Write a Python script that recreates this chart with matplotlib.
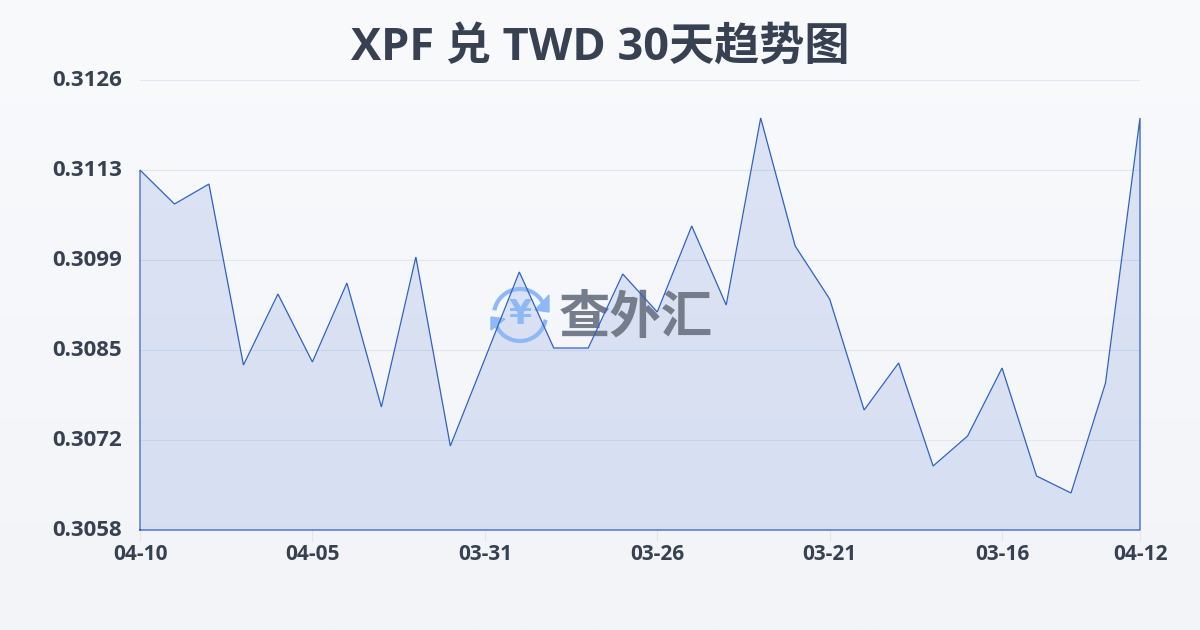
import numpy as np
import matplotlib.pyplot as plt
from matplotlib.patches import Polygon

plt.rcParams['font.family'] = ['Open Sans', 'Noto Sans CJK SC', 'DejaVu Sans']

title = 'XPF 兑 TWD 30天趋势图'
dates = ['04-10', '04-09', '04-08', '04-07', '04-06', '04-05', '04-04', '04-03', '04-02', '04-01',
         '03-31', '03-30', '03-29', '03-28', '03-27', '03-26', '03-25', '03-24', '03-23', '03-22',
         '03-21', '03-20', '03-19', '03-18', '03-17', '03-16', '03-15', '03-14', '03-13', '04-12']
rates = [0.31124, 0.310726, 0.311028, 0.308293, 0.309366, 0.308339, 0.309532, 0.307659, 0.309925, 0.307069,
         0.308384, 0.309699, 0.30855, 0.30855, 0.309668, 0.309094, 0.310394, 0.3092, 0.312026, 0.310092,
         0.309291, 0.307613, 0.308324, 0.306767, 0.30722, 0.308248, 0.306616, 0.306359, 0.308021, 0.312026]
y_labels = ['0.3058', '0.3072', '0.3085', '0.3099', '0.3113', '0.3126']
x_tick_idx = [0, 5, 10, 15, 20, 25, 29]
y_min, y_max = 0.3058, 0.3126

LINE = '#2f62c8'
TEXT = '#374151'

fig = plt.figure(figsize=(12, 6.3), dpi=100)

# background gradient
bg = fig.add_axes([0, 0, 1, 1], zorder=0)
bg.imshow(np.linspace(0, 1, 256).reshape(-1, 1), aspect='auto', extent=[0, 1200, 630, 0],
          cmap=plt.matplotlib.colors.LinearSegmentedColormap.from_list('bg', ['#f8fafc', '#f2f4f8']))
bg.set_xlim(0, 1200)
bg.set_ylim(630, 0)
bg.axis('off')

ax = fig.add_axes([140 / 1200, 100 / 630, 1000 / 1200, 450 / 630], zorder=1)
ax.patch.set_alpha(0)
x = np.arange(len(rates))

ax.set_xlim(0, len(rates) - 1)
ax.set_ylim(y_min, y_max)
for s in ax.spines.values():
    s.set_visible(False)

y_ticks = np.linspace(y_min, y_max, len(y_labels))
ax.set_yticks(y_ticks, y_labels)
ax.set_xticks(x_tick_idx, [dates[i] for i in x_tick_idx])
ax.tick_params(axis='y', length=0, pad=13, labelsize=16, labelcolor=TEXT)
ax.tick_params(axis='x', length=8, width=0.8, color='#e2e5ea', pad=2, labelsize=15, labelcolor=TEXT)
for lab in ax.get_xticklabels() + ax.get_yticklabels():
    lab.set_fontweight('bold')
for lab in ax.get_yticklabels():
    lab.set_verticalalignment('center')
ax.grid(axis='y', color='#e3e6ec', lw=0.8, zorder=1)
ax.set_axisbelow(True)

# watermark, placed in pixel coordinates
px = bg.transData
logo = '#8fb9f6'
t = np.radians(np.linspace(195, 345, 40))
ax.plot(520 + 26 * np.cos(t), 315 + 26 * np.sin(t), color=logo, lw=3, transform=px, clip_on=False, zorder=3)
t = np.radians(np.linspace(15, 160, 40))
ax.plot(520 + 26 * np.cos(t), 315 + 26 * np.sin(t), color=logo, lw=3, transform=px, clip_on=False, zorder=3)
ax.add_patch(Polygon([(549, 295), (549, 312), (535, 310)], color=logo, transform=px, clip_on=False, zorder=3))
ax.add_patch(Polygon([(491, 317), (491, 330), (505, 319)], color=logo, transform=px, clip_on=False, zorder=3))
ax.text(520, 315, '¥', color=logo, fontsize=24, fontweight='bold', ha='center', va='center',
        family=['DejaVu Sans'], transform=px, zorder=3)
ax.text(636, 320, '查外汇', color='#757c8b', fontsize=37, fontweight='bold', ha='center', va='center',
        transform=px, zorder=3)

# area and line
ax.fill_between(x, rates, y_min, color='#3565cf', alpha=0.145, lw=0, zorder=2)
ax.plot(np.r_[x[0], x, x[-1], x[0]], np.r_[y_min, rates, y_min, y_min], color=LINE, lw=0.9,
        solid_joinstyle='miter', clip_on=False, zorder=4)

fig.text(600 / 1200, 1 - 48 / 630, title, color=TEXT, fontsize=32.5, fontweight='bold', ha='center', va='center', zorder=5)

fig.savefig('out.png', dpi=100)
